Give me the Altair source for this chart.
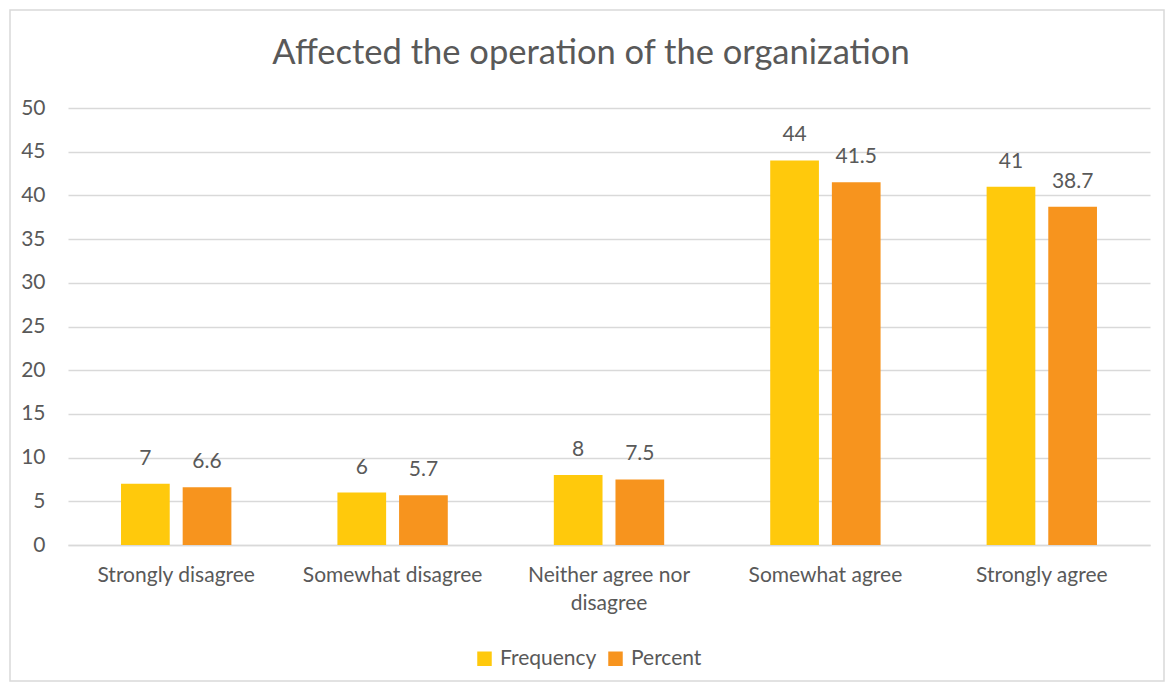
import altair as alt
import pandas as pd

categories = ["Strongly disagree", "Somewhat disagree", "Neither agree nor disagree",
              "Somewhat agree", "Strongly agree"]
frequency = [7, 6, 8, 44, 41]
percent = [6.6, 5.7, 7.5, 41.5, 38.7]
series = ["Frequency", "Percent"]
colors = ["#FFC90C", "#F7941E"]
y_ticks = [0, 5, 10, 15, 20, 25, 30, 35, 40, 45, 50]

rows = []
for c, f, p in zip(categories, frequency, percent):
    rows.append({"category": c, "series": "Frequency", "value": f, "label": f"{f:g}"})
    rows.append({"category": c, "series": "Percent", "value": p, "label": f"{p:g}"})
df = pd.DataFrame(rows)

W, H = 1082, 437
FONT = "Lato"
FS = 21
GRAY = "#595959"
GRID = "#D9D9D9"

base = alt.Chart(df).encode(
    x=alt.X("category:N", sort=categories,
            scale=alt.Scale(paddingInner=0.49, paddingOuter=0.245),
            axis=alt.Axis(title=None, labelAngle=0, labelFontSize=FS, labelColor=GRAY,
                          labelFont=FONT, domainColor=GRID, domainWidth=1.5, ticks=False,
                          labelPadding=19, labelLineHeight=28, labelLimit=300,
                          labelExpr="datum.label == 'Neither agree nor disagree' ? ['Neither agree nor', 'disagree'] : datum.label")),
    xOffset=alt.XOffset("series:N", sort=series,
                        scale=alt.Scale(paddingInner=0.21, paddingOuter=0)),
)

bars = base.mark_bar().encode(
    y=alt.Y("value:Q", scale=alt.Scale(domain=[0, 50]),
            axis=alt.Axis(title=None, values=y_ticks, labelFontSize=FS, labelColor=GRAY,
                          labelFont=FONT, domain=False, ticks=False, labelPadding=23,
                          gridColor=GRID, gridWidth=1.5)),
    color=alt.Color("series:N", sort=series,
                    scale=alt.Scale(domain=series, range=colors),
                    legend=alt.Legend(title=None, orient="none", legendX=406, legendY=540,
                                      direction="horizontal", symbolType="square",
                                      symbolSize=210, symbolStrokeWidth=0,
                                      labelFontSize=FS, labelFont=FONT, labelColor=GRAY,
                                      columnPadding=8, labelOffset=5)),
)

text = base.mark_text(dy=-19, baseline="alphabetic", fontSize=FS, color=GRAY, font=FONT).encode(
    y=alt.Y("value:Q"),
    text=alt.Text("label:N"),
)

frame = alt.Chart(pd.DataFrame({"a": [0]})).mark_rect(
    fill="transparent", stroke=GRID, strokeWidth=1.5
).encode(
    x=alt.value(-58), x2=alt.value(W + 14),
    y=alt.value(-98), y2=alt.value(H + 136),
)

chart = alt.layer(frame, bars, text).properties(
    width=W, height=H,
    title=alt.Title("Affected the operation of the organization", fontSize=34.5, font=FONT,
                    color=GRAY, fontWeight="normal", anchor="middle", frame="group",
                    dx=-18, offset=-62),
    autosize=alt.AutoSizeParams(type="none"),
    padding={"left": 60, "top": 100, "right": 16, "bottom": 138},
    background="white",
).configure_view(stroke=None)

chart.save("out.html", embed_options={"renderer": "svg", "actions": False})
